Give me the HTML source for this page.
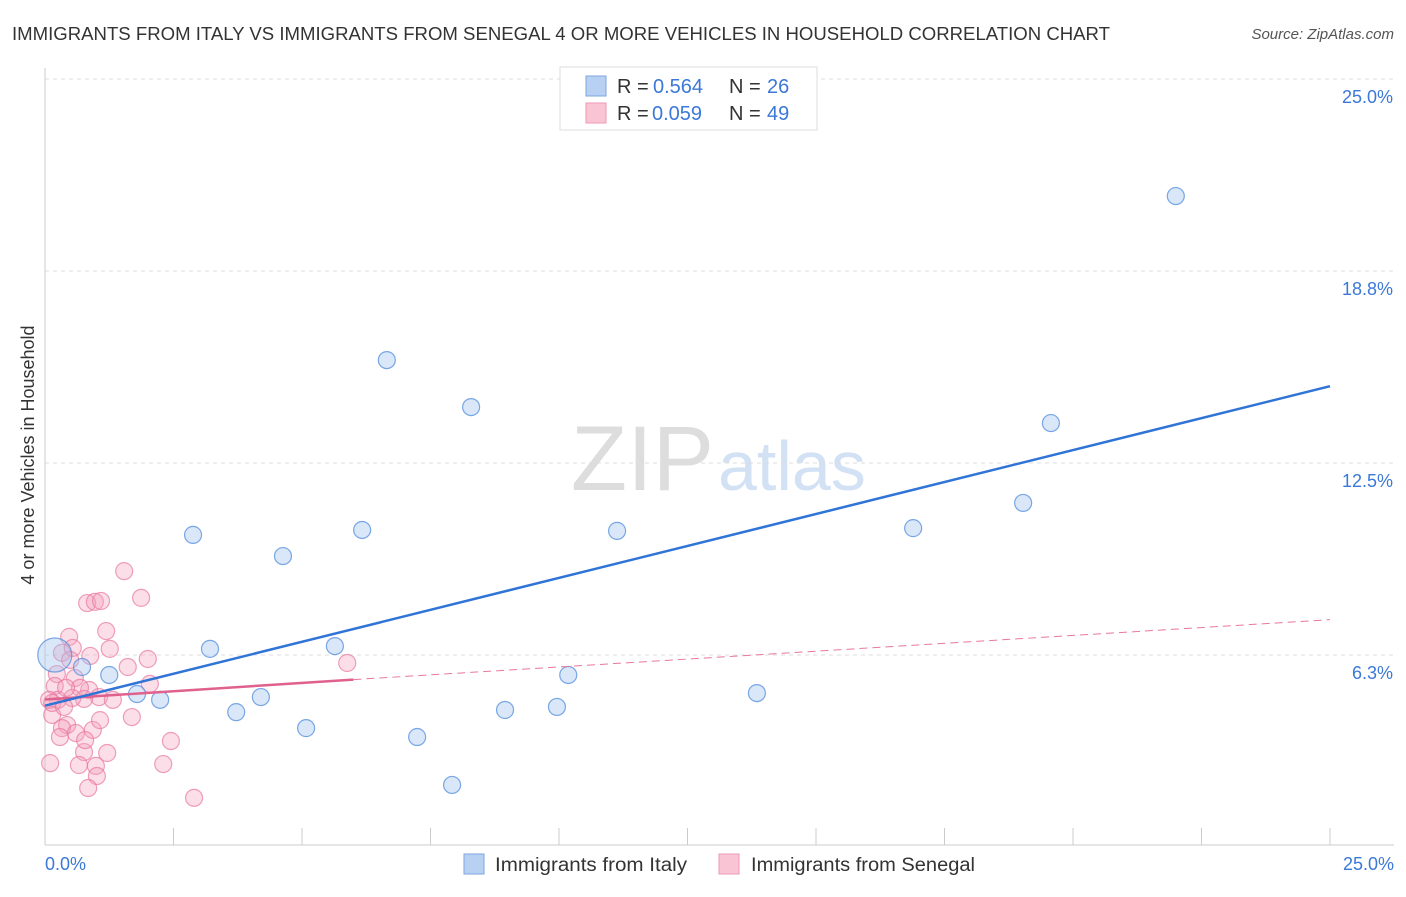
<!DOCTYPE html>
<html><head><meta charset="utf-8"><style>
body{margin:0;background:#fff;font-family:"Liberation Sans",sans-serif;}
svg text{font-family:"Liberation Sans",sans-serif;}
</style></head><body>
<svg width="1406" height="892" viewBox="0 0 1406 892" id="chart">
<text x="12" y="40" font-size="18" fill="#333" textLength="1098" lengthAdjust="spacingAndGlyphs">IMMIGRANTS FROM ITALY VS IMMIGRANTS FROM SENEGAL 4 OR MORE VEHICLES IN HOUSEHOLD CORRELATION CHART</text>
<text x="1394" y="39" font-size="15" fill="#555" text-anchor="end" font-style="italic">Source: ZipAtlas.com</text>
<text x="714" y="490" font-size="92" fill="#ddd" text-anchor="end" font-family="Liberation Serif">ZIP</text>
<text x="718" y="490" font-size="70" fill="#d3e1f5">atlas</text>
<g id="grid"></g>
<g id="axes"></g>
<g id="marks"></g>
<text x="34" y="455" font-size="18" fill="#333" text-anchor="middle" transform="rotate(-90 34 455)">4 or more Vehicles in Household</text>
<text x="45" y="870" font-size="18" fill="#3b78d8">0.0%</text>
<text x="1394" y="870" font-size="18" fill="#3b78d8" text-anchor="end">25.0%</text>
<g>
<rect x="560" y="67" width="257" height="63" fill="#fff" stroke="#ddd"/>
<rect x="586" y="76" width="20" height="20" fill="#b8d1f3" stroke="#7ea6e0"/>
<rect x="586" y="103" width="20" height="20" fill="#f9c4d4" stroke="#ee9ab5"/>
<text x="617" y="93" font-size="20" fill="#333">R = </text><text x="653" y="93" font-size="20" fill="#3b78d8">0.564</text>
<text x="729" y="93" font-size="20" fill="#333">N = </text><text x="767" y="93" font-size="20" fill="#3b78d8">26</text>
<text x="617" y="120" font-size="20" fill="#333">R = </text><text x="652" y="120" font-size="20" fill="#3b78d8">0.059</text>
<text x="729" y="120" font-size="20" fill="#333">N = </text><text x="767" y="120" font-size="20" fill="#3b78d8">49</text>
</g>
<g>
<rect x="464" y="854" width="20" height="20" fill="#b8d1f3" stroke="#7ea6e0"/>
<text x="495" y="871" font-size="19" fill="#333" textLength="192" lengthAdjust="spacingAndGlyphs">Immigrants from Italy</text>
<rect x="719" y="854" width="20" height="20" fill="#f9c4d4" stroke="#ee9ab5"/>
<text x="751" y="871" font-size="19" fill="#333" textLength="224" lengthAdjust="spacingAndGlyphs">Immigrants from Senegal</text>
</g>
</svg>
<script>
const yTicks=[6.25,12.5,18.75,25];
const yTickLabels=["6.3%","12.5%","18.8%","25.0%"];
const xTicks=[0,2.5,5,7.5,10,12.5,15,17.5,20,22.5,25];
const italyX=[0.19,0.72,1.25,1.79,2.24,2.88,3.21,3.72,4.20,4.63,5.08,5.64,6.17,6.65,7.24,7.92,8.29,8.95,9.96,10.18,11.13,13.85,16.89,19.03,19.57,22.0];
const italyY=[6.25,5.86,5.60,4.98,4.79,10.16,6.45,4.39,4.88,9.47,3.87,6.54,10.32,15.85,3.58,2.02,14.32,4.46,4.56,5.60,10.29,5.01,10.38,11.20,13.80,21.19];
const senegalX=[1.54,0.82,0.97,1.09,1.87,0.47,1.19,1.26,0.33,0.54,1.61,2.00,0.88,0.23,0.19,0.58,0.86,0.68,1.05,0.76,0.25,0.08,0.14,1.69,0.43,0.33,0.93,0.60,0.29,1.21,0.76,2.45,5.88,2.04,0.10,0.66,0.99,2.30,1.01,0.84,2.90,0.14,0.53,0.41,0.37,0.78,1.32,0.49,1.07];
const senegalY=[8.98,7.94,7.98,8.01,8.11,6.84,7.03,6.45,6.32,6.48,5.86,6.12,6.22,5.63,5.24,5.50,5.11,5.18,4.88,4.82,4.79,4.79,4.30,4.23,3.97,3.87,3.81,3.71,3.58,3.06,3.09,3.45,5.99,5.31,2.73,2.67,2.64,2.70,2.31,1.92,1.60,4.69,4.85,5.18,4.56,3.48,4.79,6.09,4.13];
const italyTrend=[[0,4.6],[25,15.0]];
const senegalTrendSolid=[[0,4.8],[6.0,5.45]];
const senegalTrendDash=[[6.0,5.45],[25,7.4]];
const NS='http://www.w3.org/2000/svg';
const X=v=>45+v/25*1285;
const Y=v=>847-v*30.72;
function mk(t,a,p){const e=document.createElementNS(NS,t);for(const k in a)e.setAttribute(k,a[k]);p.appendChild(e);return e;}
const grid=document.getElementById('grid'),axes=document.getElementById('axes'),marks=document.getElementById('marks');
yTicks.forEach((t,i)=>{
 const l=mk('line',{x1:45,x2:1394,y1:Y(t),y2:Y(t),stroke:'#ddd','stroke-dasharray':'4,4'},grid);
 
 
 const tx=mk('text',{x:1393,y:Y(t)+24,'font-size':18,fill:'#3b78d8','text-anchor':'end'},grid);
 tx.textContent=yTickLabels[i];
 
 
});
const ax=mk('line',{x1:45,x2:1394,y1:845,y2:845,stroke:'#ccc'},axes);


const ay=mk('line',{x1:45,x2:45,y1:68,y2:845,stroke:'#ccc'},axes);


xTicks.forEach(t=>{
 const l=mk('line',{x1:X(t),x2:X(t),y1:828,y2:845,stroke:'#ccc'},axes);
 
 
});
senegalX.forEach((v,i)=>{
 const c=mk('circle',{cx:X(v),cy:Y(senegalY[i]),r:8.5,fill:'rgba(244,160,188,0.35)',stroke:'rgba(232,120,160,0.7)','stroke-width':1.2},marks);
 
 
});
italyX.forEach((v,i)=>{
 const c=mk('circle',{cx:X(v),cy:Y(italyY[i]),r:i==0?17:8.5,fill:'rgba(160,196,240,0.4)',stroke:'rgba(80,140,220,0.75)','stroke-width':1.2},marks);
 
 
});
function line(p,st,name){const l=mk('line',Object.assign({x1:X(p[0][0]),y1:Y(p[0][1]),x2:X(p[1][0]),y2:Y(p[1][1])},st),marks);
 
 }
line(senegalTrendDash,{stroke:'#e8779e','stroke-width':1,'stroke-dasharray':'8,5'},'senegal-trend-extension');
line(senegalTrendSolid,{stroke:'#e0608e','stroke-width':2.5},'senegal-trend-line');
line(italyTrend,{stroke:'#2f74d6','stroke-width':2.5},'italy-trend-line');
</script>
</body></html>
